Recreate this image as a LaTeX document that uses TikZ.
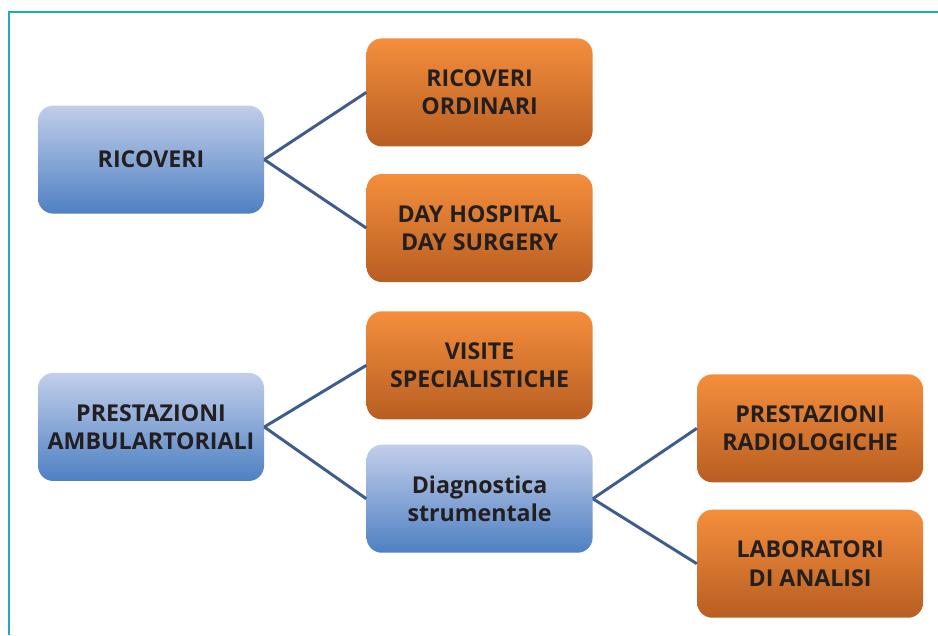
\documentclass[tikz,border=0pt]{standalone}
\usepackage{fontspec}
\setmainfont{Open Sans}
\usetikzlibrary{positioning}

\definecolor{boxtext}{RGB}{35,31,32}
\definecolor{bluetop}{RGB}{194,206,234}
\definecolor{bluebot}{RGB}{78,128,194}
\definecolor{orangetop}{RGB}{244,142,60}
\definecolor{orangebot}{RGB}{184,94,34}
\definecolor{linkcol}{RGB}{62,92,140}
\definecolor{framecol}{RGB}{30,170,192}

\tikzset{
	box/.style={rounded corners=0.38cm, minimum width=5.65cm, minimum height=2.7cm,
		align=center, text=boxtext, font=\fontsize{16.5}{20}\selectfont\bfseries},
	bluebox/.style={box, top color=bluetop, bottom color=bluebot},
	orangebox/.style={box, top color=orangetop, bottom color=orangebot},
	link/.style={draw=linkcol, line width=2.1pt}
}

\begin{document}
\begin{tikzpicture}
	\useasboundingbox (0,0) rectangle (23.45,-15.875);
	% frame on top and left
	\draw[framecol, line width=1.4pt] (0.225,-15.875) -- (0.225,-0.3) -- (23.45,-0.3);

	% Specification of nodes
	\node (ricoveri)	[bluebox] at (3.775,-3.99)	{RICOVERI};
	\node (ordinari)	[orangebox, right=2.55cm of ricoveri, yshift=1.68cm]
										{RICOVERI\\ORDINARI};
	\node (dayhosp)		[orangebox, right=2.55cm of ricoveri, yshift=-1.71cm]
										{DAY HOSPITAL\\DAY SURGERY};
	\node (visite)		[orangebox, below=0.72cm of dayhosp]
										{VISITE\\SPECIALISTICHE};
	\node (diagn)			[bluebox, below=0.62cm of visite]
										{Diagnostica\\strumentale};
	\node (ambul)			[bluebox, left=2.55cm of visite, yshift=-1.54cm]
										{PRESTAZIONI\\AMBULARTORIALI};
	\node (radio)			[orangebox, right=2.6cm of diagn, yshift=1.76cm]
										{PRESTAZIONI\\RADIOLOGICHE};
	\node (labor)			[orangebox, right=2.6cm of diagn, yshift=-1.625cm]
										{LABORATORI\\DI ANALISI};

	% Lines between nodes
	\draw[link]	(ricoveri.east) -- (ordinari.west);
	\draw[link]	(ricoveri.east) -- (dayhosp.west);
	\draw[link]	(ambul.east) -- (visite.west);
	\draw[link]	(ambul.east) -- (diagn.west);
	\draw[link]	(diagn.east) -- (radio.west);
	\draw[link]	(diagn.east) -- (labor.west);
\end{tikzpicture}
\end{document}
